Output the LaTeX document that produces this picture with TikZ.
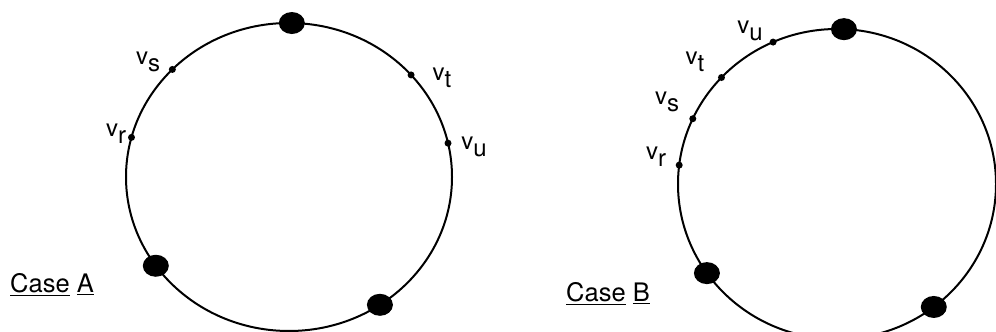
\documentclass[tikz,border=0pt]{standalone}
\usepackage{fontspec}
\setmainfont{TeX Gyre Heros}
\usetikzlibrary{shapes.geometric,calc}
\newcommand\vlab[1]{v\raisebox{-7pt}{#1}}
\begin{document}
\begin{tikzpicture}[x=1pt,y=1pt,
  ring/.style={line width=2pt},
  bigdot/.style={ellipse,fill=black,draw=none,inner sep=0pt,minimum width=26pt,minimum height=22pt},
  smalldot/.style={circle,fill=black,draw=none,inner sep=0pt,minimum size=7pt},
  lbl/.style={font=\fontsize{24}{26}\selectfont,inner sep=0pt},
  casetxt/.style={font=\fontsize{25.5}{28}\selectfont,inner sep=0pt,anchor=base west}]
\useasboundingbox (0,0) rectangle (996,332);
% ---------- Case A ----------
\coordinate (cA) at (289,155);
\draw[ring] (cA) ellipse [x radius=163pt, y radius=154pt];
\node[bigdot] (A1) at ($(cA)+(89:163pt and 154pt)$) {};
\node[bigdot] (A2) at ($(cA)+(215.2:163pt and 154pt)$) {};
\node[bigdot] (A3) at ($(cA)+(-56.1:163pt and 154pt)$) {};
\node[smalldot] (Ar) at ($(cA)+(165.1:163pt and 154pt)$) {};
\node[smalldot] (As) at ($(cA)+(135.7:163pt and 154pt)$) {};
\node[smalldot] (At) at ($(cA)+(41.5:163pt and 154pt)$) {};
\node[smalldot] (Au) at ($(cA)+(12.7:163pt and 154pt)$) {};
\node[lbl] (lAs) at (148,270) {\vlab{s}};
\node[lbl] (lAt) at (442,254) {\vlab{t}};
\node[lbl] (lAr) at (116,198) {\vlab{r}};
\node[lbl] (lAu) at (474,185) {\vlab{u}};
\node[casetxt] (caseA) at (10,39) {\underline{Case} \underline{A}};
% ---------- Case B ----------
\coordinate (cB) at (837,148);
\draw[ring] (cB) ellipse [x radius=159pt, y radius=155pt];
\node[bigdot] (B1) at ($(cB)+(87.5:159pt and 155pt)$) {};
\node[bigdot] (B2) at ($(cB)+(215.1:159pt and 155pt)$) {};
\node[bigdot] (B3) at ($(cB)+(-52.5:159pt and 155pt)$) {};
\node[smalldot] (Bu) at ($(cB)+(113.7:159pt and 155pt)$) {};
\node[smalldot] (Bt) at ($(cB)+(136.6:159pt and 155pt)$) {};
\node[smalldot] (Bs) at ($(cB)+(155.1:159pt and 155pt)$) {};
\node[smalldot] (Br) at ($(cB)+(173:159pt and 155pt)$) {};
\node[lbl] (lBu) at (750,301) {\vlab{u}};
\node[lbl] (lBt) at (695,270) {\vlab{t}};
\node[lbl] (lBs) at (667,230) {\vlab{s}};
\node[lbl] (lBr) at (656,175) {\vlab{r}};
\node[casetxt] (caseB) at (566,30) {\underline{Case} \underline{B}};
\end{tikzpicture}
\end{document}
